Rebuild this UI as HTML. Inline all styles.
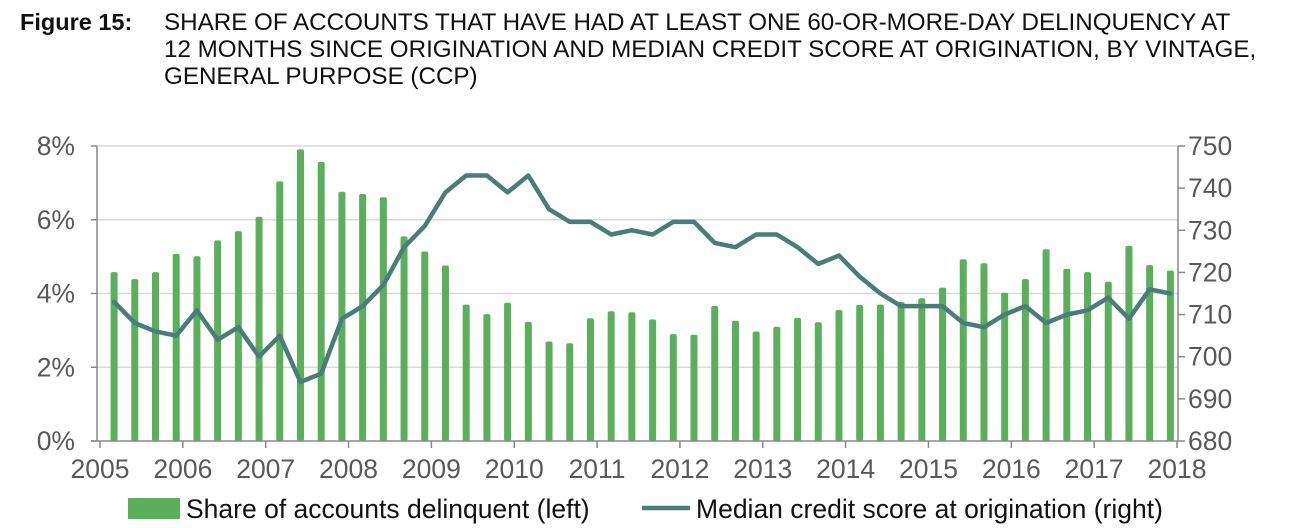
<!DOCTYPE html>
<html><head><meta charset="utf-8"><style>
body{margin:0;background:#fff;width:1310px;height:528px;overflow:hidden;font-family:"Liberation Sans",sans-serif}
.t{position:absolute;font-size:24.2px;color:#111;line-height:27px}
</style></head><body>
<div class="t" style="left:20px;top:9px;font-weight:bold;font-size:23.5px">Figure 15:</div>
<div class="t" style="left:164px;top:9px">SHARE OF ACCOUNTS THAT HAVE HAD AT LEAST ONE 60-OR-MORE-DAY DELINQUENCY AT<br>12 MONTHS SINCE ORIGINATION AND MEDIAN CREDIT SCORE AT ORIGINATION, BY VINTAGE,<br>GENERAL PURPOSE (CCP)</div>
<svg id="c" width="1310" height="528" style="position:absolute;left:0;top:0"></svg>
<script>
const shares=[4.58,4.39,4.58,5.07,5.01,5.44,5.69,6.08,7.04,7.91,7.57,6.76,6.70,6.61,5.55,5.14,4.76,3.70,3.44,3.75,3.23,2.70,2.65,3.33,3.52,3.49,3.30,2.90,2.88,3.66,3.26,2.97,3.10,3.34,3.22,3.55,3.69,3.70,3.77,3.87,4.16,4.93,4.82,4.02,4.39,5.20,4.67,4.58,4.32,5.29,4.77,4.62];
const scores=[713,708,706,705,711,704,707,700,705,694,696,709,712,717,726,731,739,743,743,739,743,735,732,732,729,730,729,732,732,727,726,729,729,726,722,724,719,715,712,712,712,708,707,710,712,708,710,711,714,709,716,715];
const leftTicks=["0%","2%","4%","6%","8%"];
const leftVals=[0,2,4,6,8];
const rightVals=[680,690,700,710,720,730,740,750];
const years=[2005,2006,2007,2008,2009,2010,2011,2012,2013,2014,2015,2016,2017,2018];
const X0=97,X1=1178,Y0=441,Y1=146;
const FS=26.5;
const xYear=y=>100+(y-2005)*(1177-100)/13;
const xIdx=i=>xYear(2005+0.17+i/4);
const yL=v=>Y0-(v/8)*(Y0-Y1);
const yR=v=>Y0-((v-680)/70)*(Y0-Y1);
const svg=document.getElementById('c');const NS='http://www.w3.org/2000/svg';
function mk(t,a,p){const e=document.createElementNS(NS,t);for(const k in a)e.setAttribute(k,a[k]);(p||svg).appendChild(e);return e;}
leftVals.forEach((v,i)=>{
 if(v>0){const g=mk('line',{x1:X0,x2:X1,y1:yL(v),y2:yL(v),stroke:'#d9d9d9','stroke-width':1.5});
 
 }
 const t=mk('text',{x:75,y:yL(v)+9,'text-anchor':'end','font-size':FS,fill:'#595959'});t.textContent=leftTicks[i];
 
 
});
rightVals.forEach(v=>{
 mk('line',{x1:X1,x2:X1+7,y1:yR(v),y2:yR(v),stroke:'#888','stroke-width':1.5});
 const t=mk('text',{x:1188,y:yR(v)+9,'font-size':FS,fill:'#595959'});t.textContent=v;
 
 
});
shares.forEach((v,i)=>{
 const r=mk('rect',{x:xIdx(i)-3.5,y:yL(v),width:7,height:Y0-yL(v),fill:'#5aaf5a',rx:2});
 
 
});
mk('line',{x1:X0,x2:X0,y1:Y1,y2:Y0,stroke:'#888','stroke-width':1.5});
mk('line',{x1:X1,x2:X1,y1:Y1,y2:Y0,stroke:'#888','stroke-width':1.5});
mk('line',{x1:X0-6,x2:X1,y1:Y0,y2:Y0,stroke:'#888','stroke-width':1.5});
leftVals.forEach(v=>mk('line',{x1:X0-6,x2:X0,y1:yL(v),y2:yL(v),stroke:'#888','stroke-width':1.5}));
years.forEach(y=>{
 mk('line',{x1:xYear(y),x2:xYear(y),y1:Y0,y2:Y0+7,stroke:'#888','stroke-width':1.5});
 const t=mk('text',{x:xYear(y),y:478,'text-anchor':'middle','font-size':FS,fill:'#595959'});t.textContent=y;
 
 
});
const p=mk('polyline',{points:scores.map((v,i)=>xIdx(i)+','+yR(v)).join(' '),fill:'none',stroke:'#4a7c7a','stroke-width':4.5,'stroke-linejoin':'round','stroke-linecap':'round'});


const lg=mk('g',{});


mk('rect',{x:128,y:498,width:52,height:21,fill:'#5aaf5a'},lg);
const t1=mk('text',{x:186,y:518,'font-size':FS,fill:'#111'},lg);t1.textContent='Share of accounts delinquent (left)';
mk('line',{x1:642,x2:690,y1:508,y2:508,stroke:'#4a7c7a','stroke-width':4.5},lg);
const t2=mk('text',{x:696,y:518,'font-size':FS,fill:'#111'},lg);t2.textContent='Median credit score at origination (right)';
</script>
</body></html>
